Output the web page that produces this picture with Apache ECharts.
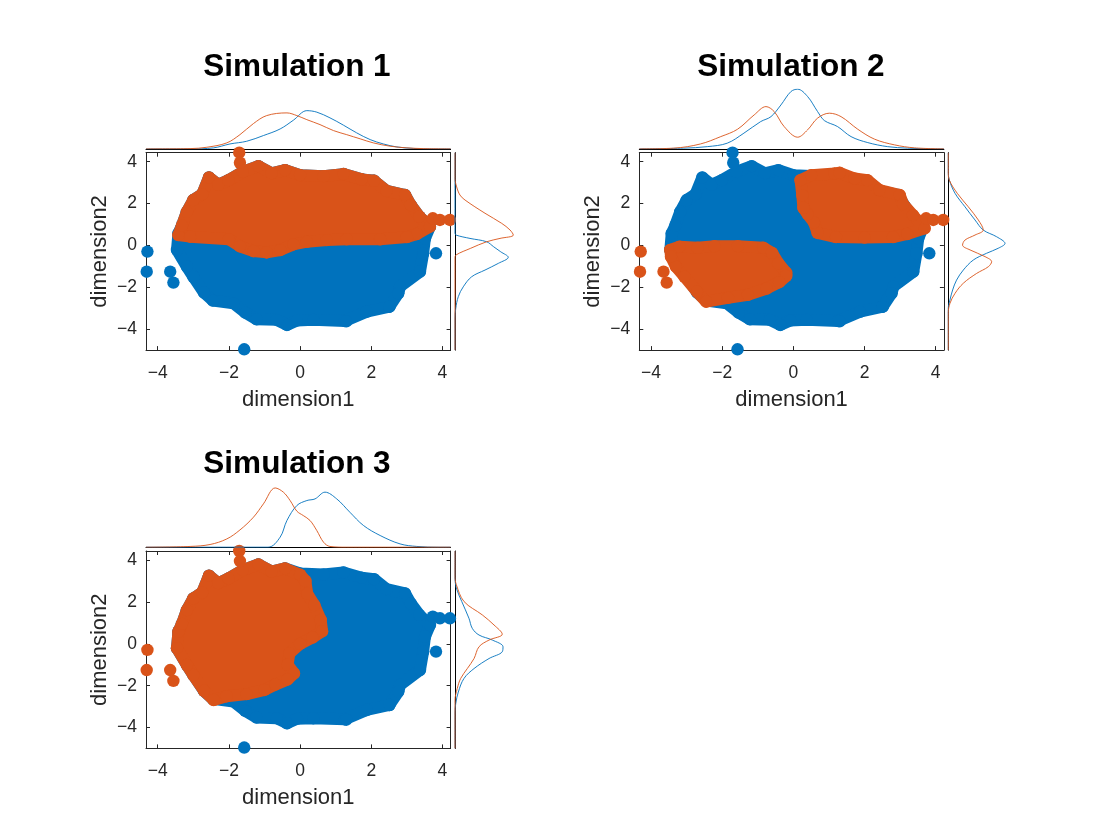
<!DOCTYPE html>
<html>
<head>
<meta charset="utf-8">
<title>Simulation 1-3</title>
<script src="https://cdn.jsdelivr.net/npm/echarts@6.0.0/dist/echarts.min.js"></script>
<style>
    html, body { margin: 0; padding: 0; background: #fff; }
    #chart { width: 1120px; height: 840px; }
</style>
</head>
<body>
<div id="chart"></div>
<script>
// axis limits / ticks
var xLimits = [-4.33, 4.23];
var yLimits = [-4.99, 4.43];
var tickValues = [-4, -2, 0, 2, 4];
var simTitles = ['Simulation 1', 'Simulation 2', 'Simulation 3'];

// outline of the whole point cloud (centres of the edge markers), same data in every simulation
var cloudOutline = [[-3.42, 0.58], [-3.32, 0.95], [-3.18, 1.61], [-3.0, 2.17], [-2.75, 2.45], [-2.56, 3.25], [-2.3, 2.9],
    [-2.01, 3.12], [-1.61, 3.52], [-1.17, 3.79], [-0.8, 3.45], [-0.42, 3.6], [0.0, 3.36], [0.66, 3.31], [1.22, 3.41],
    [1.73, 3.16], [2.08, 3.09], [2.43, 2.61], [2.95, 2.41], [3.11, 1.93], [3.35, 1.38], [3.65, 0.9], [3.51, 0.34],
    [3.46, -0.37], [3.37, -1.25], [2.81, -1.96], [2.76, -2.28], [2.51, -2.92], [1.87, -3.16], [1.26, -3.6], [0.37, -3.55],
    [-0.09, -3.58], [-0.37, -3.79], [-0.66, -3.55], [-1.22, -3.52], [-1.54, -3.2], [-1.87, -2.76], [-2.45, -2.63],
    [-2.7, -2.25], [-3.0, -1.49], [-3.18, -1.01], [-3.46, -0.21]];

// orange cluster outlines
var sim1Orange = [[-3.42, 0.5], [-3.32, 0.95], [-3.18, 1.61], [-3.0, 2.17], [-2.75, 2.45], [-2.56, 3.25], [-2.3, 2.9],
    [-2.01, 3.12], [-1.61, 3.52], [-1.17, 3.79], [-0.8, 3.45], [-0.42, 3.6], [0.0, 3.36], [0.66, 3.31], [1.22, 3.41],
    [1.73, 3.16], [2.08, 3.09], [2.43, 2.61], [2.95, 2.41], [3.11, 1.93], [3.35, 1.38], [3.65, 0.9], [3.28, 0.55],
    [3.0, 0.4], [2.25, 0.3], [1.31, 0.3], [0.75, 0.26], [0.19, 0.18], [-0.19, 0.05], [-0.56, -0.22], [-0.94, -0.33],
    [-1.31, -0.27], [-1.69, -0.04], [-2.0, 0.3], [-3.09, 0.42]];
var sim2OrangeA = [[0.2, 3.12], [0.5, 3.36], [1.16, 3.44], [1.3, 3.47], [1.72, 3.2], [2.08, 3.12], [2.42, 2.65],
    [2.99, 2.41], [3.08, 1.98], [3.36, 1.45], [3.69, 0.82], [3.2, 0.55], [2.8, 0.4], [2.0, 0.38], [1.2, 0.4],
    [0.68, 0.6], [0.58, 1.1], [0.4, 1.5], [0.28, 1.8], [0.25, 2.4]];
var sim2OrangeB = [[-3.46, -0.21], [-3.2, -0.05], [-2.69, -0.1], [-2.22, -0.03], [-1.56, -0.03], [-0.85, -0.1],
    [-0.6, -0.35], [-0.42, -0.85], [-0.2, -1.3], [-0.2, -1.45], [-0.4, -1.75], [-0.75, -2.05], [-1.28, -2.35],
    [-1.84, -2.5], [-2.45, -2.68], [-2.71, -2.2], [-3.06, -1.49], [-3.3, -1.01], [-3.44, -0.53]];
var sim3Orange = [[-3.42, 0.58], [-3.32, 0.95], [-3.18, 1.61], [-3.0, 2.17], [-2.75, 2.45], [-2.56, 3.25], [-2.3, 2.9],
    [-2.01, 3.12], [-1.61, 3.52], [-1.17, 3.79], [-0.8, 3.45], [-0.42, 3.6], [0.0, 3.3], [0.15, 3.0], [0.2, 2.4],
    [0.4, 1.85], [0.58, 1.14], [0.62, 0.6], [0.35, 0.3], [0.0, 0.0], [-0.3, -0.45], [-0.35, -1.0], [-0.17, -1.41],
    [-0.35, -1.7], [-0.7, -1.95], [-1.0, -2.2], [-1.5, -2.4], [-2.06, -2.5], [-2.43, -2.68], [-2.7, -2.24],
    [-3.0, -1.49], [-3.18, -1.01], [-3.46, -0.21]];

// isolated points, and their cluster in each simulation (0 = blue, 1 = orange)
var loosePoints = [[-1.71, 4.43], [-1.69, 3.95], [3.73, 1.3], [3.93, 1.22], [4.21, 1.22], [-4.29, -0.29], [-4.31, -1.25],
    [-3.65, -1.25], [-3.56, -1.77], [-1.57, -4.95], [3.82, -0.37], [1.3, -3.62], [2.51, -2.92]];
var sim1Labels = [1, 1, 1, 1, 1, 0, 0, 0, 0, 0, 0, 0, 0];
var sim2Labels = [0, 0, 1, 1, 1, 1, 1, 1, 1, 0, 0, 0, 0];
var sim3Labels = [1, 1, 0, 0, 0, 1, 1, 1, 1, 0, 0, 0, 0];

// marginal densities over dimension1: [x, density]
var sim1TopBlue = [[-4.33, 0], [-3.09, 0], [-2.43, 0.007], [-1.97, 0.033], [-1.5, 0.051], [-1.03, 0.089], [-0.56, 0.133],
    [-0.19, 0.191], [0.19, 0.255], [0.47, 0.245], [0.84, 0.207], [1.22, 0.158], [1.59, 0.107], [1.97, 0.062],
    [2.34, 0.033], [2.72, 0.013], [3.18, 0.003], [3.74, 0], [4.23, 0]];
var sim1TopOrange = [[-4.33, 0], [-3.09, 0.002], [-2.62, 0.011], [-2.06, 0.04], [-1.69, 0.095], [-1.31, 0.169],
    [-0.94, 0.222], [-0.37, 0.24], [-0.09, 0.222], [0.19, 0.195], [0.56, 0.162], [0.94, 0.122], [1.31, 0.095],
    [1.69, 0.067], [2.06, 0.04], [2.53, 0.018], [3.0, 0.007], [3.46, 0.002], [4.23, 0]];
var sim2TopBlue = [[-4.33, 0], [-3.08, 0.005], [-2.42, 0.015], [-1.86, 0.038], [-1.39, 0.105], [-0.92, 0.182],
    [-0.63, 0.215], [-0.35, 0.293], [-0.07, 0.382], [0.12, 0.398], [0.4, 0.349], [0.68, 0.249], [0.87, 0.189],
    [1.24, 0.149], [1.62, 0.082], [2.09, 0.042], [2.65, 0.015], [3.21, 0.005], [3.96, 0], [4.23, 0]];
var sim2TopOrange = [[-4.33, 0], [-3.36, 0.005], [-2.61, 0.033], [-2.04, 0.082], [-1.57, 0.131], [-1.1, 0.227],
    [-0.77, 0.282], [-0.54, 0.249], [-0.26, 0.149], [0.12, 0.078], [0.4, 0.127], [0.68, 0.205], [1.01, 0.238],
    [1.34, 0.215], [1.81, 0.131], [2.28, 0.065], [2.84, 0.027], [3.4, 0.007], [4.23, 0]];
var sim3TopBlue = [[-4.33, 0], [-0.9, 0], [-0.56, 0.067], [-0.37, 0.178], [-0.09, 0.278], [0.19, 0.311], [0.42, 0.322],
    [0.7, 0.367], [1.03, 0.322], [1.4, 0.233], [1.78, 0.145], [2.25, 0.078], [2.81, 0.022], [3.28, 0.005], [3.9, 0],
    [4.23, 0]];
var sim3TopOrange = [[-4.33, 0], [-3.09, 0.005], [-2.53, 0.018], [-2.06, 0.055], [-1.69, 0.115], [-1.31, 0.2],
    [-1.03, 0.289], [-0.7, 0.395], [-0.47, 0.367], [-0.28, 0.311], [-0.09, 0.24], [0.09, 0.211], [0.28, 0.178],
    [0.47, 0.111], [0.66, 0.033], [0.84, 0.005], [1.3, 0], [4.23, 0]];

// marginal densities over dimension2: [y, density]
var sim1RightBlue = [[4.43, 0], [0.6, 0], [0.5, 0.007], [0.34, 0.1], [0.18, 0.211], [-0.06, 0.258], [-0.3, 0.305],
    [-0.56, 0.355], [-0.85, 0.289], [-1.17, 0.2], [-1.49, 0.111], [-1.97, 0.055], [-2.44, 0.022], [-3.0, 0.005],
    [-3.5, 0], [-4.99, 0]];
var sim1RightOrange = [[4.43, 0], [3.2, 0], [2.8, 0.011], [2.41, 0.033], [2.17, 0.067], [1.54, 0.2], [1.06, 0.311],
    [0.74, 0.367], [0.5, 0.389], [0.34, 0.3], [0.18, 0.211], [-0.13, 0.105], [-0.45, 0.007], [-0.6, 0], [-4.99, 0]];
var sim2RightBlue = [[4.43, 0], [3.5, 0], [3.12, 0.007], [2.49, 0.045], [1.85, 0.111], [1.22, 0.178], [0.74, 0.233],
    [0.42, 0.322], [0.1, 0.378], [-0.13, 0.333], [-0.37, 0.255], [-0.69, 0.167], [-1.17, 0.1], [-1.65, 0.055],
    [-2.12, 0.029], [-2.6, 0.011], [-3.0, 0], [-4.99, 0]];
var sim2RightOrange = [[4.43, 0], [3.5, 0], [3.12, 0.007], [2.49, 0.06], [1.85, 0.133], [1.22, 0.2], [0.74, 0.233],
    [0.5, 0.178], [0.26, 0.111], [0.02, 0.095], [-0.21, 0.145], [-0.53, 0.245], [-0.77, 0.289], [-1.01, 0.267],
    [-1.33, 0.189], [-1.8, 0.1], [-2.28, 0.045], [-2.76, 0.011], [-3.2, 0], [-4.99, 0]];
var sim3RightBlue = [[4.43, 0], [3.2, 0], [2.66, 0.009], [2.02, 0.045], [1.22, 0.093], [0.74, 0.115], [0.42, 0.16],
    [0.18, 0.249], [-0.14, 0.32], [-0.38, 0.315], [-0.7, 0.227], [-1.18, 0.127], [-1.65, 0.06], [-2.3, 0.022],
    [-2.85, 0.005], [-3.3, 0], [-4.99, 0]];
var sim3RightOrange = [[4.43, 0], [3.2, 0], [2.82, 0.009], [2.02, 0.06], [1.38, 0.182], [0.9, 0.26], [0.46, 0.315],
    [0.18, 0.227], [-0.14, 0.16], [-0.7, 0.127], [-1.18, 0.082], [-1.65, 0.038], [-2.13, 0.015], [-2.7, 0], [-4.99, 0]];

var BLUE = '#0072BD', ORANGE = '#D95319', AXIS = '#262626';
var FONT = '"Liberation Sans", Arial, Helvetica, sans-serif';

var sims = [
    {orange: [sim1Orange], labels: sim1Labels, top: [sim1TopBlue, sim1TopOrange], right: [sim1RightBlue, sim1RightOrange]},
    {orange: [sim2OrangeA, sim2OrangeB], labels: sim2Labels, top: [sim2TopBlue, sim2TopOrange], right: [sim2RightBlue, sim2RightOrange]},
    {orange: [sim3Orange], labels: sim3Labels, top: [sim3TopBlue, sim3TopOrange], right: [sim3RightBlue, sim3RightOrange]}
];
// panel placement (px)
var panels = [
    {left: 146, top: 152.7, cx: 297, ty: 66},
    {left: 639.3, top: 152.7, cx: 791, ty: 66},
    {left: 146, top: 551, cx: 297, ty: 463}
];
var W = 304.6, H = 197.4, MARG = 60, DMAX = 0.4, R = 6.2;

function minusLabel(v) {
    return String(v).replace('-', '\u2212');
}

// filled cluster: polygon through the edge markers, plus a marker at every vertex
function polySeries(poly, color, xi, yi) {
    return {
        type: 'custom', xAxisIndex: xi, yAxisIndex: yi, silent: true,
        data: [[0, 0]],
        renderItem: function (params, api) {
            var pts = poly.map(function (p) { return api.coord(p); });
            var children = [{
                type: 'polygon',
                shape: {points: pts},
                style: {fill: color, stroke: color, lineWidth: 2 * R - 0.5, lineJoin: 'round'}
            }];
            pts.forEach(function (c) {
                children.push({type: 'circle', shape: {cx: c[0], cy: c[1], r: R}, style: {fill: color}});
            });
            return {type: 'group', children: children};
        }
    };
}

function dotSeries(pts, color, xi, yi) {
    return {
        type: 'scatter', xAxisIndex: xi, yAxisIndex: yi, silent: true, clip: false,
        symbolSize: 2 * R, itemStyle: {color: color, opacity: 1, borderWidth: 0},
        data: pts
    };
}

function curveSeries(pts, color, xi, yi) {
    return {
        type: 'line', xAxisIndex: xi, yAxisIndex: yi, silent: true,
        showSymbol: false, smooth: 0.35,
        lineStyle: {color: color, width: 0.9},
        data: pts
    };
}

function mainAxis(gi, pos, isX, showLabel, name) {
    var ax = {
        type: 'value', gridIndex: gi, position: pos,
        min: isX ? xLimits[0] : yLimits[0], max: isX ? xLimits[1] : yLimits[1],
        splitLine: {show: false},
        axisLine: {show: true, onZero: false, lineStyle: {color: AXIS, width: 1}},
        axisTick: {show: true, inside: true, length: 4, customValues: tickValues, lineStyle: {color: AXIS}},
        axisLabel: {show: showLabel, customValues: tickValues, formatter: minusLabel, color: AXIS,
            fontSize: 17.5, fontFamily: FONT, margin: isX ? 14 : 9}
    };
    if (name) {
        ax.name = name;
        ax.nameLocation = 'middle';
        ax.nameGap = isX ? 39 : 35;
        ax.nameTextStyle = {color: AXIS, fontSize: 22, fontFamily: FONT};
    }
    return ax;
}

var grids = [], xAxes = [], yAxes = [], series = [], graphics = [];

sims.forEach(function (sim, i) {
    var p = panels[i];
    var g = 3 * i, a = 4 * i;
    grids.push({left: p.left, top: p.top, width: W, height: H});
    grids.push({left: p.left, top: p.top - 3.8 - MARG, width: W, height: MARG});
    grids.push({left: p.left + W + 4.4, top: p.top, width: MARG, height: H});

    // main axes with mirrored ticks
    xAxes.push(mainAxis(g, 'bottom', true, true, 'dimension1'));
    xAxes.push(mainAxis(g, 'top', true, false));
    // marginal axes
    xAxes.push({type: 'value', gridIndex: g + 1, min: xLimits[0], max: xLimits[1], splitLine: {show: false},
        axisLine: {show: true, onZero: false, lineStyle: {color: '#000', width: 1}}, axisTick: {show: false}, axisLabel: {show: false}});
    xAxes.push({type: 'value', gridIndex: g + 2, min: 0, max: DMAX, show: false});

    yAxes.push(mainAxis(g, 'left', false, true, 'dimension2'));
    yAxes.push(mainAxis(g, 'right', false, false));
    yAxes.push({type: 'value', gridIndex: g + 1, min: 0, max: DMAX, show: false});
    yAxes.push({type: 'value', gridIndex: g + 2, min: yLimits[0], max: yLimits[1], splitLine: {show: false},
        axisLine: {show: true, onZero: false, lineStyle: {color: '#000', width: 1}}, axisTick: {show: false}, axisLabel: {show: false}});

    // scatter: blue cloud first, orange clusters on top
    series.push(polySeries(cloudOutline, BLUE, a, a));
    sim.orange.forEach(function (poly) {
        series.push(polySeries(poly, ORANGE, a, a));
    });
    var bluePts = [], orangePts = [];
    loosePoints.forEach(function (pt, k) {
        (sim.labels[k] ? orangePts : bluePts).push(pt);
    });
    series.push(dotSeries(bluePts, BLUE, a, a));
    series.push(dotSeries(orangePts, ORANGE, a, a));

    // marginal densities
    series.push(curveSeries(sim.top[0], BLUE, a + 2, a + 2));
    series.push(curveSeries(sim.top[1], ORANGE, a + 2, a + 2));
    series.push(curveSeries(sim.right[0].map(function (d) { return [d[1], d[0]]; }), BLUE, a + 3, a + 3));
    series.push(curveSeries(sim.right[1].map(function (d) { return [d[1], d[0]]; }), ORANGE, a + 3, a + 3));

    graphics.push({
        type: 'text', x: p.cx, y: p.ty + 1,
        style: {text: simTitles[i], fill: '#000', font: 'bold 31.5px ' + FONT,
            align: 'center', verticalAlign: 'middle', textAlign: 'center', textVerticalAlign: 'middle'}
    });
});

var myChart = echarts.init(document.getElementById('chart'), null, {renderer: 'canvas'});
myChart.setOption({
    backgroundColor: '#fff',
    animation: false,
    textStyle: {fontFamily: FONT},
    grid: grids,
    xAxis: xAxes,
    yAxis: yAxes,
    series: series,
    graphic: graphics
});
</script>
</body>
</html>
